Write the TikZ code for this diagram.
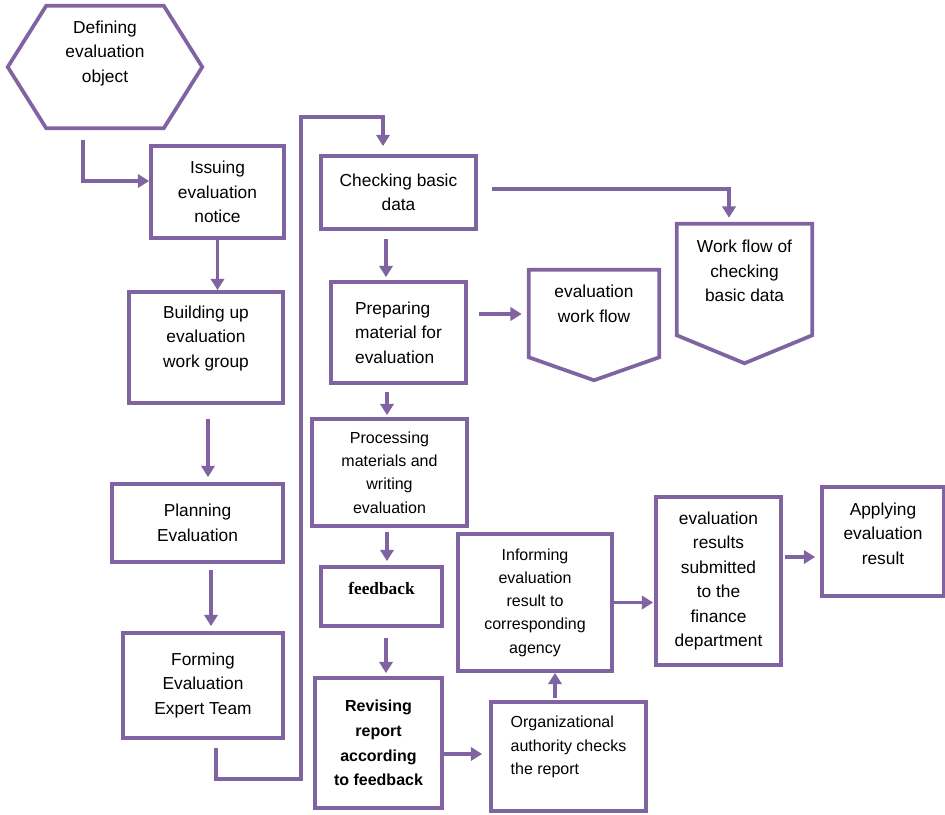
\documentclass[tikz,border=0pt]{standalone}
\usepackage{fontspec}
\setmainfont{Liberation Sans}
\newfontfamily\fbserif{Liberation Serif}
\usetikzlibrary{positioning,calc,arrows.meta}
\definecolor{vio}{RGB}{128,100,162}

\begin{document}
\begin{tikzpicture}[
    x=0.75pt,
    y=-0.75pt,
    font=\fontsize{13}{18.4}\selectfont,
    line join=miter,
    wh/.style 2 args={
        minimum width=#1*0.75pt,
        minimum height=#2*0.75pt
    },
    box/.style={
        draw=vio,
        line width=2.8pt,
        inner sep=0pt,
        align=center
    },
    shapebox/.style={
        inner sep=0pt
    },
    rim/.style={
        draw=vio,
        line width=2.8pt
    },
    txt/.style={
        inner sep=0pt,
        align=center
    },
    light/.style={
        font=\fontsize{12}{17.4}\selectfont
    },
    route/.style={
        draw=vio,
        line width=2.8pt,
        -{Triangle[length=8.5pt,width=10pt]}
    }
]
    \useasboundingbox (0,0) rectangle (945,814);

    % left column
    \node[shapebox,wh={117}{122}] (def) at (105,67) {};
    \draw[rim] (def.north west) -- (def.north east) -- ($(def.east)+(38.5,0)$)
        -- (def.south east) -- (def.south west) -- ($(def.west)+(-38.5,0)$) -- cycle;
    \node[txt] (def-t) at ($(def)+(0,-13.5)$) {Defining\\evaluation\\object};

    \node[box,wh={133}{92}] (iss) at (217.5,192) {Issuing\\evaluation\\notice};
    \node[box,wh={154}{111}] (bld) at (206,347.5) {};
    \node[txt] (bld-t) at ($(bld)+(0,-9)$) {Building up\\evaluation\\work group};
    \node[box,wh={171}{78}] (pln) at (197.5,523) {Planning\\Evaluation};
    \node[box,wh={160}{105}] (frm) at (203,685.5) {Forming\\Evaluation\\Expert Team};

    % middle column
    \node[box,wh={155}{73}] (chk) at (398.5,192.5) {Checking basic\\data};
    \node[box,align=left,wh={135}{101}] (prp) at (398.5,332.5) {Preparing\\material for\\evaluation};
    \node[box,light,wh={155}{107}] (prc) at (389.5,472.5) {Processing\\materials and\\writing\\evaluation};
    \node[box,wh={121}{59}] (fdb) at (381.5,596.5) {};
    \node[txt,font=\fbserif\bfseries\fontsize{13}{16}\selectfont] (fdb-t) at ($(fdb)+(0,-8)$) {feedback};
    \node[box,font=\fontsize{12}{18.5}\selectfont\bfseries,wh={127}{130}] (rev) at (378.5,743) {Revising\\report\\according\\to feedback};

    % work flow pages
    \node[shapebox,wh={135}{111}] (wfc) at (744.5,279.5) {};
    \draw[rim] (wfc.south west) -- (wfc.north west) -- (wfc.north east)
        -- (wfc.south east) -- ($(wfc.south)+(0,28)$) -- cycle;
    \node[txt] (wfc-t) at ($(wfc)+(0,-8.5)$) {Work flow of\\checking\\basic data};

    \node[shapebox,wh={130}{87}] (ewf) at (594,313.5) {};
    \draw[rim] (ewf.south west) -- (ewf.north west) -- (ewf.north east)
        -- (ewf.south east) -- ($(ewf.south)+(0,23)$) -- cycle;
    \node[txt] (ewf-t) at ($(ewf)+(0,-9.5)$) {evaluation\\work flow};

    % result chain
    \node[box,wh={155}{109}] (org) at (568.5,756.5) {};
    \node[txt,light,align=left] (org-t) at ($(org)+(0,-9.5)$) {Organizational\\authority checks\\the report};
    \node[box,light,wh={154}{137}] (inf) at (535,602.5) {Informing\\evaluation\\result to\\corresponding\\agency};
    \node[box,wh={125}{168}] (res) at (718.5,581) {evaluation\\results\\submitted\\to the\\finance\\department};
    \node[box,wh={122}{109}] (app) at (883,541.5) {};
    \node[txt] (app-t) at ($(app)+(0,-8)$) {Applying\\evaluation\\result};

    % connectors
    \draw[route] ($(def.south)+(-22,12)$) |- ($(iss.west)+(0,-11)$);
    \draw[route] (iss.south) -- (iss.south |- bld.north);
    \draw[route] ($(bld.south)+(2,14)$) -- ($(bld.south |- pln.north)+(2,-5)$);
    \draw[route] ($(pln.south)+(13.5,6)$) -- ($(pln.south |- frm.north)+(13.5,-5)$);

    \coordinate (lowbend) at (301,779);
    \coordinate (topbend) at (301,117);
    \draw[route] ($(frm.south)+(13,8)$) |- (lowbend) -- (topbend) -| ($(chk.north)+(-15.5,-8)$);

    \draw[route] ($(chk.east)+(14,-3.5)$) -| ($(wfc.north)+(-15.5,-6)$);
    \draw[route] ($(chk.south)+(-12.5,8)$) -- ($(chk.south |- prp.north)+(-12.5,-3)$);
    \draw[route] ($(prp.east)+(11,-18.5)$) -- ($(ewf.west |- prp.east)+(-7,-18.5)$);
    \draw[route] ($(prp.south)+(-11.5,7)$) -- ($(prp.south |- prc.north)+(-11.5,-2)$);
    \draw[route] ($(prc.south)+(-2.5,4)$) -- ($(prc.south |- fdb.north)+(-2.5,-4)$);
    \draw[route] ($(fdb.south)+(4.5,10)$) -- ($(fdb.south |- rev.north)+(4.5,-3)$);
    \draw[route] ($(rev.east)+(0,11)$) -- ($(org.west |- rev.east)+(-7,11)$);
    \draw[route] ($(org.north)+(-13.5,-2)$) -- ($(org.north |- inf.south)+(-13.5,0)$);
    \draw[route] (inf.east) -- ($(res.west |- inf.east)+(-1,0)$);
    \draw[route] ($(res.east)+(2,-24)$) -- ($(app.west |- res.east)+(-5,-24)$);
\end{tikzpicture}
\end{document}
